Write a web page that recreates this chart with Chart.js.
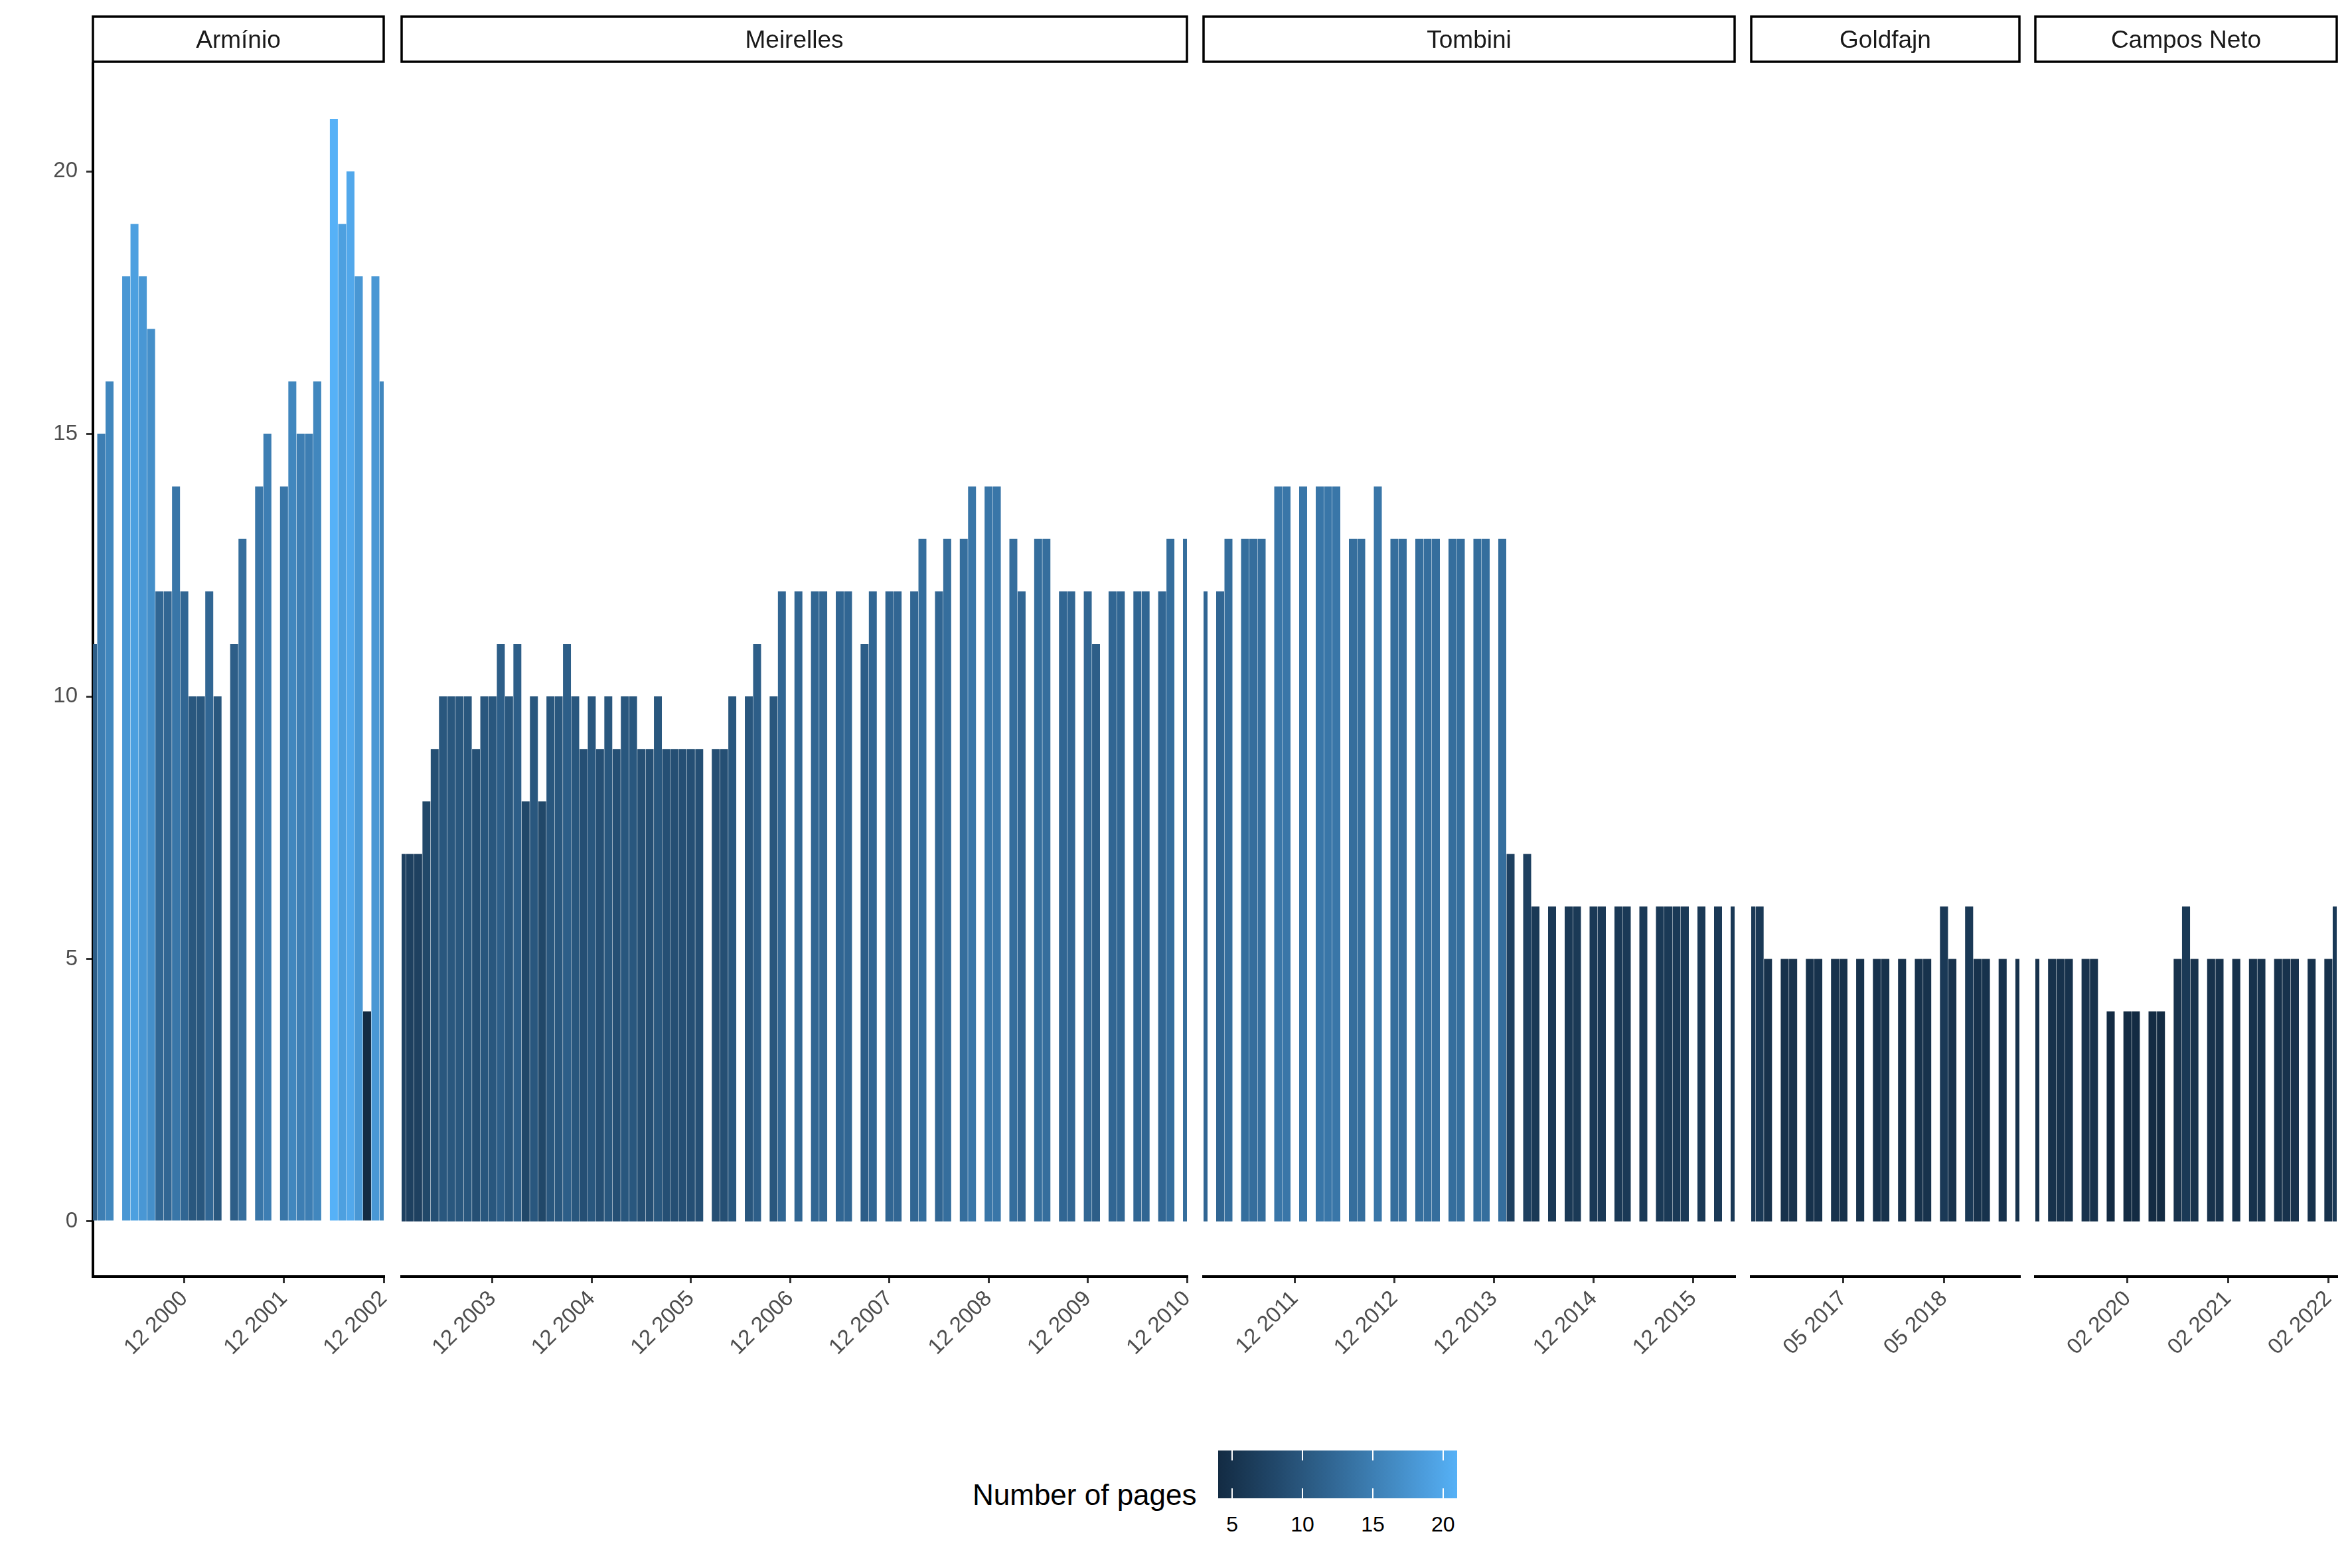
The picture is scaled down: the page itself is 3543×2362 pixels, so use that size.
<!DOCTYPE html>
<html>
<head>
<meta charset="utf-8">
<script src="https://cdn.jsdelivr.net/npm/chart.js@4.4.1/dist/chart.umd.min.js"></script>
<style>
  html, body { margin: 0; padding: 0; background: #fff; }
  body { width: 3543px; height: 2362px; position: relative; overflow: hidden;
         font-family: "Liberation Sans", Arial, sans-serif; }
  canvas { position: absolute; top: 0; }
  .lg { position: absolute; white-space: nowrap; }
</style>
</head>
<body>
<script>
const governors = ["Armínio", "Meirelles", "Tombini", "Goldfajn", "Campos Neto"];
const startMonths = ["2000-01", "2003-01", "2011-01", "2016-06", "2019-03"];

// pages per Copom minutes, one slot per month (null = no meeting that month)
const arminioPages = [
  11, 15, 16, null, 18, 19, 18, 17, 12, 12, 14, 12,
  10, 10, 12, 10, null, 11, 13, null, 14, 15, null, 14,
  16, 15, 15, 16, null, 21, 19, 20, 18, 4, 18, 16
];
const meirellesPages = [
  7, 7, 7, 8, 9, 10, 10, 10, 10, 9, 10, 10,
  11, 10, 11, 8, 10, 8, 10, 10, 11, 10, 9, 10,
  9, 10, 9, 10, 10, 9, 9, 10, 9, 9, 9, 9,
  9, null, 9, 9, 10, null, 10, 11, null, 10, 12, null,
  12, null, 12, 12, null, 12, 12, null, 11, 12, null, 12,
  12, null, 12, 13, null, 12, 13, null, 13, 14, null, 14,
  14, null, 13, 12, null, 13, 13, null, 12, 12, null, 12,
  11, null, 12, 12, null, 12, 12, null, 12, 13, null, 13
];
const tombiniPages = [
  12, null, 12, 13, null, 13, 13, 13, null, 14, 14, null,
  14, null, 14, 14, 14, null, 13, 13, null, 14, null, 13,
  13, null, 13, 13, 13, null, 13, 13, null, 13, 13, null,
  13, 7, null, 7, 6, null, 6, null, 6, 6, null, 6,
  6, null, 6, 6, null, 6, null, 6, 6, 6, 6, null,
  6, null, 6, null, 6
];
const goldfajnPages = [
  6, 6, 5, null, 5, 5, null,
  5, 5, null, 5, 5, null, 5, null, 5, 5, null, 5,
  null, 5, 5, null, 6, 5, null, 6, 5, 5, null, 5,
  null, 5
];
const camposNetoPages = [
  5, null, 5, 5, 5, null, 5, 5, null, 4,
  null, 4, 4, null, 4, 4, null, 5, 6, 5, null, 5,
  5, null, 5, null, 5, 5, null, 5, 5, 5, null, 5,
  null, 5, 6
];

const arminioTicks = ["12 2000", "12 2001", "12 2002"];
const meirellesTicks = ["12 2003", "12 2004", "12 2005", "12 2006", "12 2007", "12 2008", "12 2009", "12 2010"];
const tombiniTicks = ["12 2011", "12 2012", "12 2013", "12 2014", "12 2015"];
const goldfajnTicks = ["05 2017", "05 2018"];
const camposNetoTicks = ["02 2020", "02 2021", "02 2022"];
const yTicks = [0, 5, 10, 15, 20];
const legendTicks = [5, 10, 15, 20];
const pageLimits = [4, 21];

const pageSeries = [arminioPages, meirellesPages, tombiniPages, goldfajnPages, camposNetoPages];
const tickSeries = [arminioTicks, meirellesTicks, tombiniTicks, goldfajnTicks, camposNetoTicks];

// panel edges on the page
const panelEdges = [[140, 578], [605, 1788], [1813, 2613], [2638, 3042], [3066, 3520]];
const FONT = '"Liberation Sans", Arial, sans-serif';
Chart.defaults.font.family = FONT;

function monthLabels(start, n) {
  const y0 = parseInt(start.slice(0, 4));
  const m0 = parseInt(start.slice(5, 7)) - 1;
  const out = [];
  for (let k = 0; k < n; k++) {
    const m = (m0 + k) % 12 + 1;
    const y = y0 + Math.floor((m0 + k) / 12);
    out.push(String(m).padStart(2, "0") + " " + y);
  }
  return out;
}

// ggplot-like gradient (#132B43 -> #56B1F7) interpolated in Lab
const WHITE = [0.95047, 1, 1.08883];
function hexToRgb(h) { return [1, 3, 5].map((i) => parseInt(h.slice(i, i + 2), 16)); }
function toLin(c) { c /= 255; return c <= 0.04045 ? c / 12.92 : Math.pow((c + 0.055) / 1.055, 2.4); }
function fromLin(c) {
  const v = c <= 0.0031308 ? 12.92 * c : 1.055 * Math.pow(c, 1 / 2.4) - 0.055;
  return Math.round(Math.min(1, Math.max(0, v)) * 255);
}
function rgbToLab(rgb) {
  const [r, g, b] = rgb.map(toLin);
  const x = (0.4124564 * r + 0.3575761 * g + 0.1804375 * b) / WHITE[0];
  const y = (0.2126729 * r + 0.7151522 * g + 0.072175 * b) / WHITE[1];
  const z = (0.0193339 * r + 0.119192 * g + 0.9503041 * b) / WHITE[2];
  const f = (t) => (t > 216 / 24389 ? Math.cbrt(t) : ((24389 / 27) * t + 16) / 116);
  const fx = f(x), fy = f(y), fz = f(z);
  return [116 * fy - 16, 500 * (fx - fy), 200 * (fy - fz)];
}
function labToRgb([L, a, b]) {
  const fy = (L + 16) / 116, fx = fy + a / 500, fz = fy - b / 200;
  const finv = (t) => { const t3 = t * t * t; return t3 > 216 / 24389 ? t3 : (116 * t - 16) / (24389 / 27); };
  const x = finv(fx) * WHITE[0], y = finv(fy) * WHITE[1], z = finv(fz) * WHITE[2];
  const r = 3.2404542 * x - 1.5371385 * y - 0.4985314 * z;
  const g = -0.969266 * x + 1.8760108 * y + 0.041556 * z;
  const bb = 0.0556434 * x - 0.2040259 * y + 1.0572252 * z;
  return [r, g, bb].map(fromLin);
}
const lowLab = rgbToLab(hexToRgb("#132B43"));
const highLab = rgbToLab(hexToRgb("#56B1F7"));
function pageColour(v) {
  const t = Math.min(1, Math.max(0, (v - pageLimits[0]) / (pageLimits[1] - pageLimits[0])));
  const lab = lowLab.map((c, i) => c + (highLab[i] - c) * t);
  const [r, g, b] = labToRgb(lab);
  return `rgb(${r},${g},${b})`;
}

const stripPlugin = {
  id: "strip",
  afterDraw(chart, args, opts) {
    const { ctx, chartArea } = chart;
    ctx.save();
    ctx.fillStyle = "#fff";
    ctx.fillRect(chartArea.left, 25, chartArea.right - chartArea.left, 68);
    ctx.lineWidth = 3.5;
    ctx.strokeStyle = "#000";
    ctx.strokeRect(chartArea.left, 25, chartArea.right - chartArea.left, 68);
    ctx.fillStyle = "#1A1A1A";
    ctx.font = "37px " + FONT;
    ctx.textAlign = "center";
    ctx.textBaseline = "alphabetic";
    ctx.fillText(opts.text, (chartArea.left + chartArea.right) / 2, 72);
    ctx.restore();
  },
};

const CANVAS_H = 2100;
const PAD = 150;

function makePanel(i) {
  const values = pageSeries[i];
  const labels = monthLabels(startMonths[i], values.length);
  const tickLabels = tickSeries[i];
  const showY = i === 0;
  const [left, right] = panelEdges[i];
  const canvasLeft = showY ? 0 : left - PAD;
  const canvas = document.createElement("canvas");
  canvas.width = right + PAD - canvasLeft;
  canvas.height = CANVAS_H;
  canvas.style.left = canvasLeft + "px";
  document.body.appendChild(canvas);

  new Chart(canvas, {
    type: "bar",
    data: {
      labels: labels,
      datasets: [
        {
          data: values,
          backgroundColor: values.map((v) => (v == null ? "transparent" : pageColour(v))),
          borderWidth: 0,
          barPercentage: 0.96,
          categoryPercentage: 1,
        },
      ],
    },
    options: {
      responsive: false,
      animation: false,
      devicePixelRatio: 1,
      layout: { padding: { left: showY ? 0 : PAD, right: PAD, top: 96, bottom: 0 } },
      plugins: {
        legend: { display: false },
        tooltip: { enabled: false },
        strip: { text: governors[i] },
      },
      scales: {
        x: {
          type: "category",
          offset: false,
          grid: { offset: false, drawOnChartArea: false, tickLength: 10, color: "#333333", lineWidth: 3 },
          border: { display: true, color: "#000", width: 4 },
          ticks: {
            autoSkip: false,
            maxRotation: 45,
            minRotation: 45,
            color: "#4D4D4D",
            padding: 4,
            font: { size: 33 },
          },
          afterBuildTicks: (scale) => {
            scale.ticks = scale.ticks.filter((t) => tickLabels.includes(labels[t.value]));
          },
          afterFit: (scale) => {
            scale.height = 177;
          },
        },
        y: {
          display: showY,
          min: -1.05,
          max: 22.05,
          grid: { drawOnChartArea: false, tickLength: 10, color: "#333333", lineWidth: 3 },
          border: { display: true, color: "#000", width: 4 },
          ticks: { color: "#4D4D4D", padding: 13, font: { size: 33 } },
          afterBuildTicks: (scale) => {
            scale.ticks = yTicks.map((v) => ({ value: v }));
          },
          afterFit: (scale) => {
            scale.width = showY ? 140 : 0;
          },
        },
      },
    },
    plugins: [stripPlugin],
  });
}

pageSeries.forEach((_, i) => makePanel(i));

// colourbar legend
(function buildLegend() {
  const barLeft = 1835, barTop = 2185, barW = 360, barH = 72;
  const span = pageLimits[1] - pageLimits[0];
  const stops = [];
  for (let k = 0; k <= 20; k++) {
    const v = pageLimits[0] + (span * k) / 20;
    stops.push(pageColour(v) + " " + (k * 5) + "%");
  }
  const title = document.createElement("div");
  title.className = "lg";
  title.textContent = "Number of pages";
  title.style.cssText = "left:1465px;top:2230px;font-size:44px;line-height:44px;color:#000;";
  document.body.appendChild(title);

  const bar = document.createElement("div");
  bar.className = "lg";
  bar.style.cssText = `left:${barLeft}px;top:${barTop}px;width:${barW}px;height:${barH}px;` +
    `background:linear-gradient(to right, ${stops.join(", ")});`;
  document.body.appendChild(bar);

  legendTicks.forEach((v) => {
    const x = ((v - pageLimits[0]) / span) * barW;
    [0, barH - 15].forEach((y) => {
      const t = document.createElement("div");
      t.className = "lg";
      t.style.cssText = `left:${x - 1}px;top:${y}px;width:2px;height:15px;background:#fff;`;
      bar.appendChild(t);
    });
    const lab = document.createElement("div");
    lab.className = "lg";
    lab.textContent = String(v);
    lab.style.cssText = `left:${barLeft + x - 50}px;top:2280px;width:100px;text-align:center;` +
      "font-size:32px;line-height:32px;color:#000;";
    document.body.appendChild(lab);
  });
})();
</script>
</body>
</html>
